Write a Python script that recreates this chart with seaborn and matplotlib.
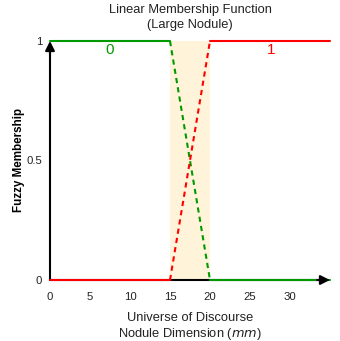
import matplotlib
matplotlib.use('Agg')
import matplotlib.pyplot as plt
import seaborn as sns

# data: breakpoints of the two linear membership functions
breakpoints = [0, 15, 20, 35]
mu_small = [1, 1, 0, 0]   # "0" class (green)
mu_large = [0, 0, 1, 1]   # "1" class (red)
fuzzy_zone = (15, 20)
x_ticks = [0, 5, 10, 15, 20, 25, 30]
y_ticks = [0, 0.5, 1]
y_tick_labels = ['0', '0.5', '1']
class_labels = ['0', '1']
class_label_x = [7.5, 27.6]
class_label_y = 0.962

GREEN = '#009900'
RED = '#ff0000'
TXT = '#222222'

sns.set_theme(style='white')
plt.rcParams['font.family'] = ['Liberation Sans', 'DejaVu Sans']

fig = plt.figure(figsize=(3.4, 3.41), dpi=100)
ax = fig.add_axes([50 / 340, 61 / 341, 280 / 340, 239 / 341])
ax.set_xlim(0, 35)
ax.set_ylim(0, 1)
for s in ax.spines.values():
    s.set_visible(False)

# fuzzy zone shading
ax.axvspan(fuzzy_zone[0], fuzzy_zone[1], ymin=0, ymax=1, color='#fff4d9', zorder=0, lw=0)

# axes arrows (line part)
ax.plot([0, 34], [0, 0], color='black', lw=1.5, zorder=1, clip_on=False)
ax.plot([0, 0], [0, 0.97], color='black', lw=1.5, zorder=1, clip_on=False)

# membership lines: solid outside the fuzzy zone, dashed inside
for mu, col in [(mu_small, GREEN), (mu_large, RED)]:
    sns.lineplot(x=breakpoints[0:2], y=mu[0:2], color=col, lw=1.5, ax=ax, zorder=2, clip_on=False)
    sns.lineplot(x=breakpoints[2:4], y=mu[2:4], color=col, lw=1.5, ax=ax, zorder=2, clip_on=False)
    ax.plot(breakpoints[1:3], mu[1:3], color=col, lw=1.5, ls=(0, (2.5, 2)), zorder=2, clip_on=False)

# arrowheads on top
arrow = dict(arrowstyle='-|>', color='black', lw=1.5, mutation_scale=14, shrinkA=0, shrinkB=0)
ax.annotate('', xy=(35, 0), xytext=(33.4, 0), arrowprops=arrow, zorder=4, annotation_clip=False)
ax.annotate('', xy=(0, 1), xytext=(0, 0.94), arrowprops=arrow, zorder=4, annotation_clip=False)

# class labels
for lab, lx, col in zip(class_labels, class_label_x, [GREEN, RED]):
    ax.text(lx, class_label_y, lab, color=col, fontsize=11, ha='center', va='center')

ax.set_xticks(x_ticks)
ax.set_xticklabels([str(t) for t in x_ticks])
ax.set_yticks(y_ticks)
ax.set_yticklabels(y_tick_labels)
ax.tick_params(axis='x', length=0, pad=8.5, labelsize=8.2, colors=TXT)
ax.tick_params(axis='y', length=0, pad=5.5, labelsize=8.2, colors=TXT)
ax.grid(False)

ax.set_title('Linear Membership Function\n(Large Nodule)', fontsize=9.3, color=TXT,
             y=1.056, pad=0, linespacing=1.3)
ax.set_xlabel('Universe of Discourse\nNodule Dimension ($\\it{mm}$)', fontsize=9.3, color=TXT,
              linespacing=1.2)
ax.xaxis.set_label_coords(0.5, -0.135)
ax.set_ylabel('Fuzzy Membership', fontsize=8.4, fontweight='bold', color='black')
ax.yaxis.set_label_coords(-0.09, 0.502)

fig.savefig('out.png', dpi=100)
